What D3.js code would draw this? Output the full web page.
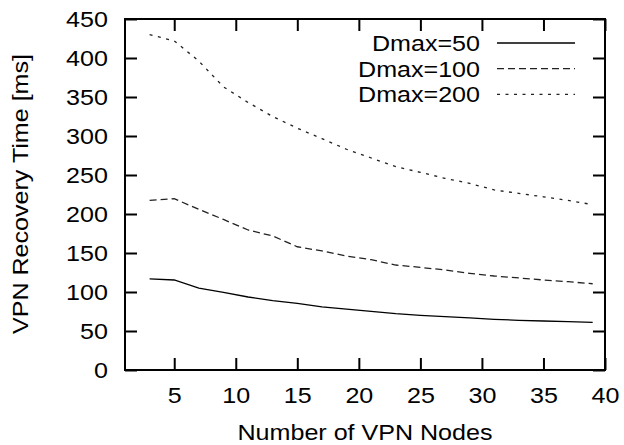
<!DOCTYPE html>
<html>
<head>
<meta charset="utf-8">
<script src="https://cdn.jsdelivr.net/npm/d3@7"></script>
<style>
  body { margin: 0; background: #fff; }
  text { font-family: "Liberation Sans", Arial, sans-serif; font-size: 22px; fill: #000; }
</style>
</head>
<body>
<div id="chart"></div>
<script>
// data
var nodes = [3, 5, 7, 9, 11, 13, 15, 17, 19, 21, 23, 25, 27, 29, 31, 33, 35, 37, 39];
var dmax50 = [116.7, 115.4, 105, 99.6, 93.6, 88.9, 85.5, 81, 78, 75.2, 72.2, 70.1, 68.4, 66.7, 65, 63.7, 62.8, 61.9, 61.1];
var dmax100 = [217.5, 219.6, 206, 193, 179.5, 171.8, 158, 152.6, 146, 141.4, 134.6, 131.6, 128.2, 124, 120.5, 118, 115.4, 113.2, 110.6];
var dmax200 = [430, 422, 396, 363, 343, 325, 310, 296.6, 283, 271.8, 260.7, 253.4, 245.7, 239.3, 230.8, 226.5, 222, 217.5, 212];
var seriesNames = ["Dmax=50", "Dmax=100", "Dmax=200"];
var xTicks = [5, 10, 15, 20, 25, 30, 35, 40];
var yTicks = [0, 50, 100, 150, 200, 250, 300, 350, 400, 450];

var W = 624, H = 445;
var plotL = 125, plotR = 605, plotT = 19, plotB = 370;
var stretch = 1.14; // the reference text is a bit wider than the font

var x = d3.scaleLinear().domain([1, 40]).range([plotL, plotR]);
var y = d3.scaleLinear().domain([0, 450]).range([plotB, plotT]);

var svg = d3.select('#chart').append('svg')
    .attr('width', W).attr('height', H);

// ticks, all pointing inward
svg.append('g').attr('transform', 'translate(0,' + plotB + ')')
    .call(d3.axisBottom(x).tickValues(xTicks).tickSize(-12).tickPadding(17));
svg.append('g').attr('transform', 'translate(0,' + plotT + ')')
    .call(d3.axisTop(x).tickValues(xTicks).tickSize(-12).tickFormat(''));
svg.append('g').attr('transform', 'translate(' + plotL + ',0)')
    .call(d3.axisLeft(y).tickValues(yTicks).tickSize(-12).tickPadding(15));
svg.append('g').attr('transform', 'translate(' + plotR + ',0)')
    .call(d3.axisRight(y).tickValues(yTicks).tickSize(-12).tickFormat(''));

svg.selectAll('.domain').remove();
svg.selectAll('.tick line').attr('stroke', '#000').attr('stroke-width', 2);
svg.selectAll('.tick text')
    .attr('font-family', null).attr('font-size', null)
    .attr('transform', 'scale(' + stretch + ',1)');

svg.append('rect')
    .attr('x', plotL).attr('y', plotT)
    .attr('width', plotR - plotL).attr('height', plotB - plotT)
    .attr('fill', 'none').attr('stroke', '#000').attr('stroke-width', 2);

// curves
var series = [dmax50, dmax100, dmax200];
var dashes = [null, '7,4', '3,5.5'];
var colors = ['#000', '#222', '#222'];

var line = d3.line()
    .x(function(d, i) { return x(nodes[i]); })
    .y(function(d) { return y(d); });

series.forEach(function(s, i) {
    svg.append('path').attr('d', line(s))
        .attr('fill', 'none')
        .attr('stroke', colors[i])
        .attr('stroke-width', 1.3)
        .attr('stroke-dasharray', dashes[i]);
});

// legend
seriesNames.forEach(function(name, i) {
    var ly = 43 + i * 25.7;
    svg.append('text')
        .attr('transform', 'translate(480,' + (ly + 8) + ') scale(' + stretch + ',1)')
        .attr('text-anchor', 'end')
        .text(name);
    svg.append('line')
        .attr('x1', 497).attr('x2', 575).attr('y1', ly).attr('y2', ly)
        .attr('stroke', colors[i]).attr('stroke-width', 1.3)
        .attr('stroke-dasharray', dashes[i]);
});

// axis titles
svg.append('text')
    .attr('transform', 'translate(365,440) scale(' + stretch + ',1)')
    .attr('text-anchor', 'middle')
    .text('Number of VPN Nodes');
svg.append('text')
    .attr('transform', 'translate(28,194) rotate(-90) scale(' + stretch + ',1)')
    .attr('text-anchor', 'middle')
    .text('VPN Recovery Time [ms]');
</script>
</body>
</html>
